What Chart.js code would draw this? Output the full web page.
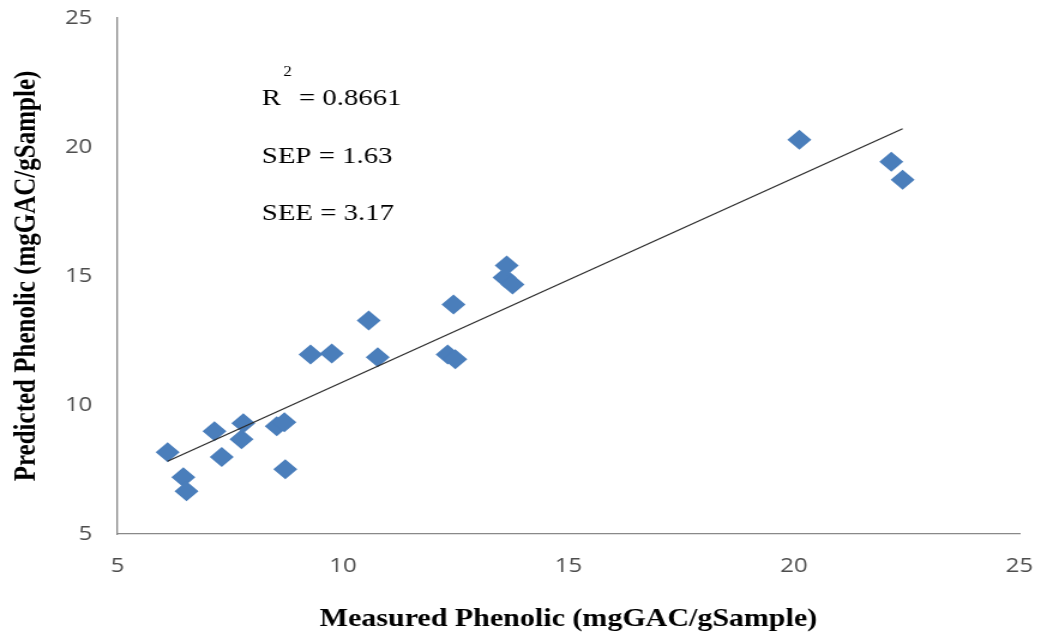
<!DOCTYPE html>
<html>
<head>
<meta charset="utf-8">
<script src="https://cdn.jsdelivr.net/npm/chart.js@4/dist/chart.umd.min.js"></script>
<style>
  html, body { margin: 0; padding: 0; background: #fff; overflow: hidden; }
  /* o grafico e desenhado estreito e esticado na horizontal */
  #wrap { width: 873px; height: 635px; transform: scaleX(1.1993); transform-origin: 0 0; }
</style>
</head>
<body>
<div id="wrap"><canvas id="grafico"></canvas></div>
<script>
// medido x previsto (mgGAC/gSample)
const medido = [6.11, 6.46, 6.53, 7.15, 7.31, 7.75, 7.79, 8.53, 8.70, 8.72, 9.28, 9.75,
  10.57, 10.77, 12.32, 12.49, 12.45, 13.58, 13.63, 13.76, 20.12, 22.16, 22.41];
const previsto = [8.17, 7.20, 6.66, 8.98, 7.98, 8.67, 9.29, 9.18, 9.33, 7.51, 11.96, 12.00,
  13.28, 11.85, 11.96, 11.77, 13.90, 14.94, 15.41, 14.67, 20.28, 19.43, 18.73];

// linha de tendencia (extremos)
const tendX = [6.11, 22.41];
const tendY = [7.82, 20.71];

const eixoMin = 5;
const eixoMax = 25;
const eixoPasso = 5;

// textos das estatisticas: [texto, resto, valor y do centro]
const estatX = 8.2;
const estat = [
  ["R", "= 0.8661", 21.87],
  ["SEP = 1.63", "", 19.62],
  ["SEE = 3.17", "", 17.42],
];

const corPonto = "#4A7EBB";
const corEixo = "#898989";
const fonteTick = "'Open Sans', sans-serif";
const fonteSerif = "'Liberation Serif', 'DejaVu Serif', serif";

const estatisticas = {
  id: "estatisticas",
  afterDatasetsDraw(chart) {
    const { ctx, scales } = chart;
    const x0 = scales.x.getPixelForValue(estatX);
    ctx.save();
    ctx.fillStyle = "#000";
    ctx.textBaseline = "middle";
    estat.forEach(([a, b, v], i) => {
      const y = scales.y.getPixelForValue(v);
      ctx.font = "24px " + fonteSerif;
      ctx.fillText(a, x0, y);
      if (i === 0) {
        const w = ctx.measureText(a).width;
        ctx.fillText(b, x0 + w + 15, y);
        ctx.font = "14px " + fonteSerif;
        ctx.fillText("2", x0 + w + 2, y - 26);
      }
    });
    ctx.restore();
  },
};

const ctx = document.getElementById("grafico");

const chart = new Chart(ctx, {
  type: "scatter",
  data: {
    datasets: [
      {
        data: medido.map((x, i) => ({ x: x, y: previsto[i] })),
        pointStyle: "rectRot",
        pointRadius: 10,
        backgroundColor: corPonto,
        borderWidth: 0,
        order: 2,
      },
      {
        type: "line",
        data: tendX.map((x, i) => ({ x: x, y: tendY[i] })),
        borderColor: "#2b2b2b",
        borderWidth: 1.2,
        pointRadius: 0,
        fill: false,
        order: 1,
      },
    ],
  },
  options: {
    responsive: true,
    maintainAspectRatio: false,
    animation: false,
    layout: {
      padding: { top: 18, right: 23, left: 0, bottom: 0 },
    },
    scales: {
      x: {
        type: "linear",
        min: eixoMin,
        max: eixoMax,
        afterFit: (s) => { s.height = 101; s.paddingLeft = 0; s.paddingRight = 0; },
        grid: { display: false, drawTicks: false },
        border: { display: true, color: corEixo, width: 1.3 },
        ticks: {
          stepSize: eixoPasso,
          padding: 20,
          color: "#4d4d4d",
          font: { family: fonteTick, size: 20 },
        },
        title: {
          display: true,
          text: "Measured Phenolic (mgGAC/gSample)",
          color: "#000",
          font: { family: fonteSerif, size: 25, weight: "bold" },
          padding: { top: 0, bottom: 0 },
        },
      },
      y: {
        type: "linear",
        min: eixoMin,
        max: eixoMax,
        afterFit: (s) => { s.width = 98; s.paddingTop = 0; s.paddingBottom = 0; },
        grid: { display: false, drawTicks: false },
        border: { display: true, color: corEixo, width: 1.3 },
        ticks: {
          stepSize: eixoPasso,
          padding: 21,
          color: "#4d4d4d",
          font: { family: fonteTick, size: 20 },
        },
        title: {
          display: true,
          text: "Predicted Phenolic (mgGAC/gSample)",
          color: "#000",
          font: { family: fonteSerif, size: 25, weight: "bold" },
          padding: { top: 8, bottom: 0 },
        },
      },
    },
    plugins: {
      legend: { display: false },
      tooltip: { enabled: false },
    },
  },
  plugins: [estatisticas],
});
</script>
</body>
</html>
